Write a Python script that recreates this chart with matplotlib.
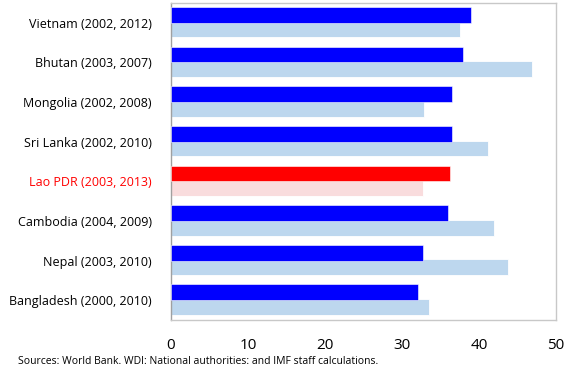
import numpy as np
import matplotlib
matplotlib.use("Agg")
from matplotlib import pyplot as plt

plt.rcParams['font.family'] = ['Open Sans', 'DejaVu Sans']

# countries, top to bottom
labels = ['Vietnam (2002, 2012)', 'Bhutan (2003, 2007)', 'Mongolia (2002, 2008)',
          'Sri Lanka (2002, 2010)', 'Lao PDR (2003, 2013)', 'Cambodia (2004, 2009)',
          'Nepal (2003, 2010)', 'Bangladesh (2000, 2010)']
latest = [39.0, 38.0, 36.5, 36.5, 36.2, 36.0, 32.8, 32.1]
earlier = [37.5, 46.9, 32.9, 41.2, 32.7, 42.0, 43.8, 33.5]
highlight = 'Lao PDR (2003, 2013)'

dark = ['#ff0000' if l == highlight else '#0000ff' for l in labels]
light = ['#f9dcdd' if l == highlight else '#bdd7ee' for l in labels]

fig = plt.figure(figsize=(5.65, 3.68), dpi=100)
ax = fig.add_axes([0.3027, 0.130, 0.681, 0.862])

y = np.arange(len(labels))
ax.barh(y + 0.17, earlier, height=0.40, color=light, edgecolor='white', linewidth=0.6, zorder=2)
ax.barh(y - 0.2, latest, height=0.40, color=dark, edgecolor='white', linewidth=0.4, zorder=3)

ax.set_xlim(0, 50)
ax.set_ylim(len(labels) - 0.5, -0.5)
ax.set_xticks([0, 10, 20, 30, 40, 50])
ax.set_yticks(y)
ax.set_yticklabels(labels, fontsize=9)
for t in ax.get_yticklabels():
    if t.get_text() == highlight:
        t.set_color('#ff0000')
ax.tick_params(axis='x', length=0, labelsize=11, pad=13)
ax.tick_params(axis='y', length=0, pad=14)

for s in ax.spines.values():
    s.set_color('#c8c8c8')
    s.set_linewidth(1)
ax.spines['left'].set_color('#a0a0a0')

fig.text(0.032, 0.012, 'Sources: World Bank. WDI: National authorities: and IMF staff calculations.',
         fontsize=7.5)

fig.savefig('out.png', dpi=100)
